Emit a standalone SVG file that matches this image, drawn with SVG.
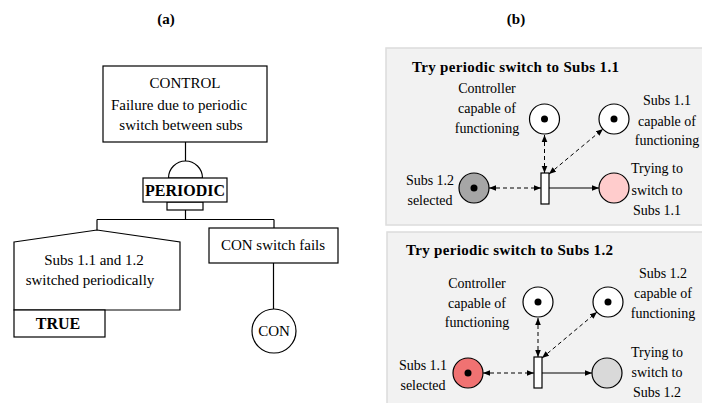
<svg xmlns="http://www.w3.org/2000/svg" width="702" height="403" viewBox="0 0 702 403">
<style>
.t{font-family:"Liberation Serif","Times New Roman",serif;fill:#000}
.r15{font-size:15px}
.r14{font-size:14px}
.b16{font-size:16px;font-weight:bold}
.b15{font-size:15px;font-weight:bold}
.box{fill:#fff;stroke:#000;stroke-width:1.2}
.ln{fill:none;stroke:#000;stroke-width:1.2}
.panel{fill:#f2f2f2;stroke:#dcdcdc;stroke-width:1.5}
.place{stroke:#000;stroke-width:1.2}
.dash{fill:none;stroke:#000;stroke-width:1;stroke-dasharray:4,3}
.sol{fill:none;stroke:#000;stroke-width:1}
</style>
<defs>
<marker id="ah" viewBox="0 0 10 10" refX="10" refY="5" markerWidth="7" markerHeight="7" orient="auto-start-reverse" markerUnits="userSpaceOnUse">
<path d="M0,1 L10,5 L0,9 z" fill="#000"/>
</marker>
</defs>
<rect width="702" height="403" fill="#fff"/>
<text class="t b15" x="166" y="24" text-anchor="middle">(a)</text>
<text class="t b15" x="516" y="24" text-anchor="middle">(b)</text>

<!-- Fault tree -->
<g id="connectors-a">
<path class="ln" d="M185.5,142 V161"/>
<path class="ln" d="M185.5,210 V219.5 M97,219.5 H274 M97,219.5 V230 M274,219.5 V228"/>
<path class="ln" d="M273.5,263 V309"/>
</g>
<g id="control">
<rect class="box" x="103" y="66" width="164" height="76"/>
<text class="t r15" x="185" y="88" text-anchor="middle">CONTROL</text>
<text class="t r15" x="179" y="110" text-anchor="middle">Failure due to periodic</text>
<text class="t r15" x="181" y="130" text-anchor="middle">switch between subs</text>
</g>
<g id="periodic-gate">
<path class="box" d="M168.5,178 A17,17 0 0 1 202.5,178 Z"/>
<rect class="box" x="167" y="202" width="36" height="8"/>
<rect class="box" x="143" y="178" width="84" height="24"/>
<text class="t b16" x="185" y="196" text-anchor="middle">PERIODIC</text>
</g>
<g id="house">
<path class="box" d="M14,242 L97,230 L180,242 V310 H14 Z"/>
<text class="t r15" x="94" y="265" text-anchor="middle">Subs 1.1 and 1.2</text>
<text class="t r15" x="90" y="285" text-anchor="middle">switched periodically</text>
<rect class="box" x="14" y="310" width="91" height="27"/>
<text class="t b16" x="58" y="329" text-anchor="middle">TRUE</text>
</g>
<g id="con-switch">
<rect class="box" x="209" y="228" width="129" height="35"/>
<text class="t r15" x="273" y="250" text-anchor="middle">CON switch fails</text>
</g>
<g id="con">
<circle class="box" cx="274" cy="331" r="22"/>
<text class="t r15" x="274" y="336" text-anchor="middle">CON</text>
</g>

<!-- Petri panels -->
<g id="panel1">
<rect class="panel" x="386" y="48" width="320" height="177"/>
<text class="t b15" x="412" y="72" textLength="207" lengthAdjust="spacing">Try periodic switch to Subs 1.1</text>
<text class="t r14" x="487" y="93" text-anchor="middle">Controller</text>
<text class="t r14" x="487" y="113" text-anchor="middle">capable of</text>
<text class="t r14" x="487" y="133" text-anchor="middle">functioning</text>
<text class="t r14" x="667" y="105" text-anchor="middle">Subs 1.1</text>
<text class="t r14" x="667" y="126" text-anchor="middle">capable of</text>
<text class="t r14" x="667" y="145" text-anchor="middle">functioning</text>
<text class="t r14" x="430" y="185" text-anchor="middle">Subs 1.2</text>
<text class="t r14" x="430" y="205" text-anchor="middle">selected</text>
<text class="t r14" x="657" y="173" text-anchor="middle">Trying to</text>
<text class="t r14" x="657" y="195" text-anchor="middle">switch to</text>
<text class="t r14" x="657" y="215" text-anchor="middle">Subs 1.1</text>
</g>
<g id="connectors-b1">
<path class="dash" d="M544.5,135 V173" marker-start="url(#ah)" marker-end="url(#ah)"/>
<path class="dash" d="M549,174 L603,129" marker-start="url(#ah)" marker-end="url(#ah)"/>
<path class="dash" d="M489,188 H541" marker-start="url(#ah)" marker-end="url(#ah)"/>
<path class="sol" d="M549,188 H599" marker-end="url(#ah)"/>
</g>
<g id="p1-controller"><circle class="place" cx="544.5" cy="119" r="15" fill="#fff"/><circle cx="544.5" cy="119" r="3.5"/></g>
<g id="p1-subs11"><circle class="place" cx="614" cy="119" r="15" fill="#fff"/><circle cx="614" cy="119" r="3.5"/></g>
<g id="p1-subs12sel"><circle class="place" cx="474" cy="188" r="15" fill="#a6a6a6"/><circle cx="474" cy="188" r="3.5"/></g>
<g id="p1-trying"><circle class="place" cx="614" cy="188" r="15" fill="#ffcccc"/></g>
<g id="p1-transition"><rect class="place" x="541" y="173" width="8" height="31" fill="#fff"/></g>

<g id="panel2">
<rect class="panel" x="387" y="232" width="320" height="180"/>
<text class="t b15" x="406" y="255" textLength="207" lengthAdjust="spacing">Try periodic switch to Subs 1.2</text>
<text class="t r14" x="477" y="288" text-anchor="middle">Controller</text>
<text class="t r14" x="477" y="308" text-anchor="middle">capable of</text>
<text class="t r14" x="477" y="327" text-anchor="middle">functioning</text>
<text class="t r14" x="663" y="278" text-anchor="middle">Subs 1.2</text>
<text class="t r14" x="663" y="298" text-anchor="middle">capable of</text>
<text class="t r14" x="663" y="318" text-anchor="middle">functioning</text>
<text class="t r14" x="423" y="370" text-anchor="middle">Subs 1.1</text>
<text class="t r14" x="423" y="390" text-anchor="middle">selected</text>
<text class="t r14" x="657" y="357" text-anchor="middle">Trying to</text>
<text class="t r14" x="657" y="377" text-anchor="middle">switch to</text>
<text class="t r14" x="657" y="397" text-anchor="middle">Subs 1.2</text>
</g>
<g id="connectors-b2">
<path class="dash" d="M538,318 V357" marker-start="url(#ah)" marker-end="url(#ah)"/>
<path class="dash" d="M542,358 L597,312" marker-start="url(#ah)" marker-end="url(#ah)"/>
<path class="dash" d="M483,373 H534" marker-start="url(#ah)" marker-end="url(#ah)"/>
<path class="sol" d="M542,373 H592" marker-end="url(#ah)"/>
</g>
<g id="p2-controller"><circle class="place" cx="538" cy="302" r="15" fill="#fff"/><circle cx="538" cy="302" r="3.5"/></g>
<g id="p2-subs12"><circle class="place" cx="608" cy="302" r="15" fill="#fff"/><circle cx="608" cy="302" r="3.5"/></g>
<g id="p2-subs11sel"><circle class="place" cx="468" cy="373" r="15" fill="#f07272"/><circle cx="468" cy="373" r="3.5"/></g>
<g id="p2-trying"><circle class="place" cx="607" cy="373" r="15" fill="#d9d9d9"/></g>
<g id="p2-transition"><rect class="place" x="534" y="357" width="8" height="31" fill="#fff"/></g>
</svg>
